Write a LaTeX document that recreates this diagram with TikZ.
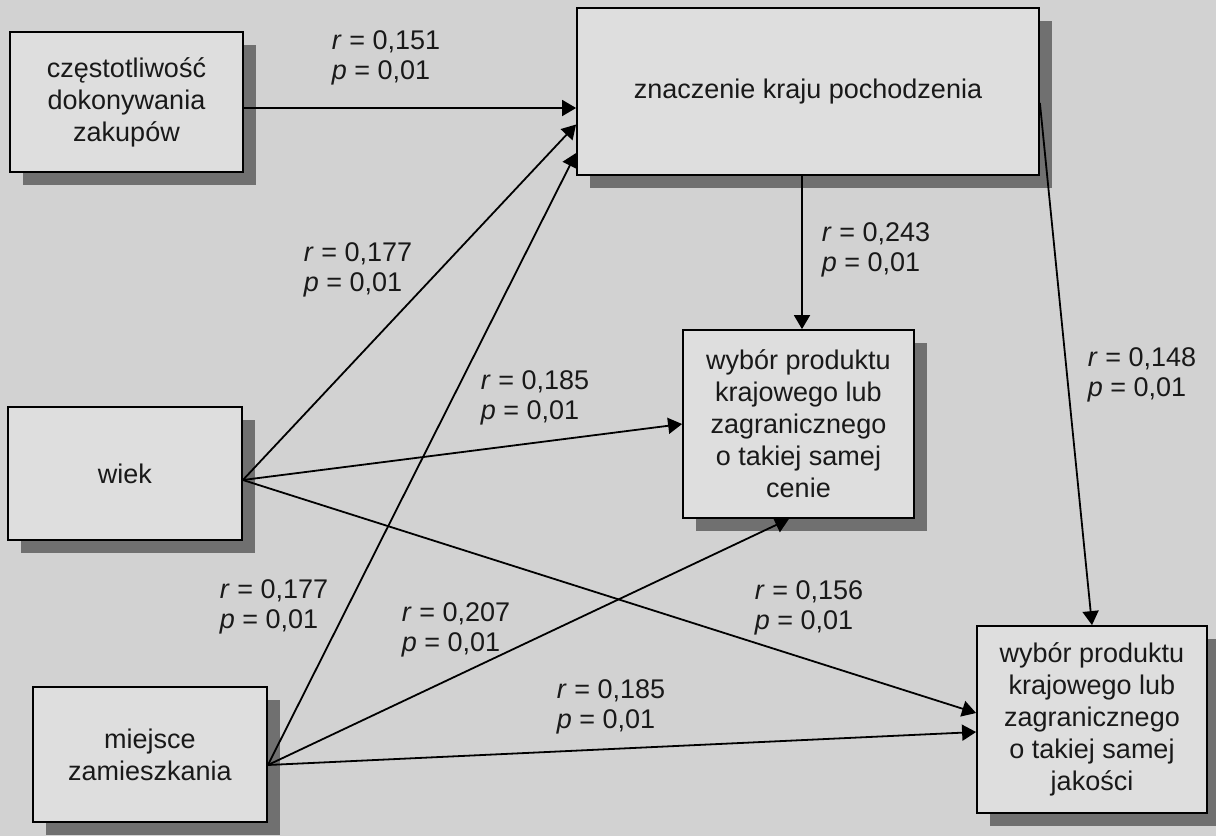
\documentclass[tikz,border=0pt]{standalone}
\usepackage{fontspec}
\setmainfont{Liberation Sans}
\usetikzlibrary{arrows.meta, shadows}

\definecolor{paper}{RGB}{210,210,210}
\definecolor{boxfill}{RGB}{222,222,222}
\definecolor{shade}{RGB}{112,112,112}
\definecolor{ink}{RGB}{25,25,25}

\tikzset{
	factor/.style={draw, line width=1.8pt, fill=boxfill, text=ink, align=center,
		font=\fontsize{27}{32}\selectfont, inner sep=0pt,
		drop shadow={shadow xshift=13pt, shadow yshift=-13pt, fill=shade, opacity=1}},
	coef/.style={text=ink, align=left, font=\fontsize{27}{30}\selectfont, inner sep=0pt},
	link/.style={line width=1.8pt, arrows={-Triangle[length=14pt, width=16pt]}}
}

\begin{document}
\begin{tikzpicture}[x=1pt, y=-1pt]
	\useasboundingbox (0,0) rectangle (1216,836);
	\fill [paper] (0,0) rectangle (1216,836);

	\node [factor, minimum width=233pt, minimum height=140pt] (freq) at (126.5,102) {częstotliwość\\dokonywania\\zakupów};
	\node [factor, minimum width=462pt, minimum height=167pt] (origin) at (808,91.5) {znaczenie kraju pochodzenia};
	\node [factor, minimum width=231pt, minimum height=188pt] (price) at (798.5,424) {wybór produktu\\krajowego lub\\zagranicznego\\o takiej samej\\cenie};
	\node [factor, minimum width=234pt, minimum height=133pt] (age) at (125,473.5) {wiek};
	\node [factor, minimum width=234pt, minimum height=135pt] (place) at (150,754.5) {miejsce\\zamieszkania};
	\node [factor, minimum width=230pt, minimum height=187pt] (quality) at (1092,719.5) {wybór produktu\\krajowego lub\\zagranicznego\\o takiej samej\\jakości};

	\coordinate (ageout) at ([yshift=-6.5pt]age.east);
	\coordinate (placeout) at ([yshift=-10.5pt]place.east);

	\draw [link] ([yshift=-6pt]freq.east) -- ([yshift=-16.5pt]origin.west);
	\draw [link] (ageout) -- ([yshift=-33pt]origin.west);
	\draw [link] (placeout) -- ([yshift=-61.5pt]origin.west);
	\draw [link] (ageout) -- (price.west);
	\draw [link] (ageout) -- ([yshift=6.5pt]quality.west);
	\draw [link] (placeout) -- ([xshift=-9.5pt]price.south);
	\draw [link] (placeout) -- ([yshift=-12.5pt]quality.west);
	\draw [link] ([xshift=-6pt]origin.south) -- ([xshift=3.5pt]price.north);
	\draw [link] ([yshift=-11.5pt]origin.east) -- (quality.north);

	\node [coef] (c151) at (386,58) {\textit{r} = 0,151\\\textit{p} = 0,01};
	\node [coef] (c177a) at (358,270) {\textit{r} = 0,177\\\textit{p} = 0,01};
	\node [coef] (c185a) at (535,398) {\textit{r} = 0,185\\\textit{p} = 0,01};
	\node [coef] (c243) at (876,250) {\textit{r} = 0,243\\\textit{p} = 0,01};
	\node [coef] (c148) at (1142,375) {\textit{r} = 0,148\\\textit{p} = 0,01};
	\node [coef] (c177b) at (274,607) {\textit{r} = 0,177\\\textit{p} = 0,01};
	\node [coef] (c207) at (456,630) {\textit{r} = 0,207\\\textit{p} = 0,01};
	\node [coef] (c156) at (809,608) {\textit{r} = 0,156\\\textit{p} = 0,01};
	\node [coef] (c185b) at (611,707) {\textit{r} = 0,185\\\textit{p} = 0,01};
\end{tikzpicture}
\end{document}
